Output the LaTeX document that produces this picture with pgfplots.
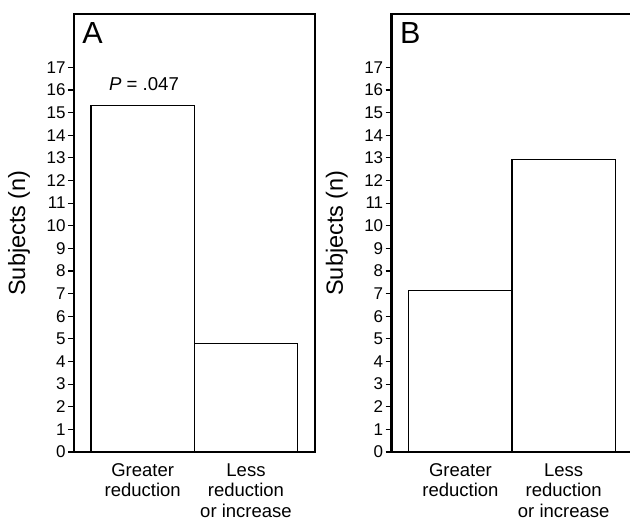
\documentclass[border=0pt]{standalone}
\usepackage{pgfplots}
\pgfplotsset{compat=1.18}
\usepackage{fontspec}
\setmainfont{Liberation Sans}
\begin{document}
\begin{tikzpicture}[x=1pt,y=1pt]
\pgfplotsset{
  panel/.style={
    scale only axis, width=241pt, height=438pt,
    xmin=-0.665, xmax=1.668, ymin=0, ymax=19.36,
    axis line style={line width=2.6pt},
    ytick={0,...,17}, ytick pos=left, tick align=outside,
    major tick length=6pt,
    ytick style={line width=1.2pt, black},
    xtick={0,1},
    xticklabels={Greater\\reduction, Less\\reduction\\or increase},
    xtick style={draw=none},
    xticklabel style={align=center, font=\fontsize{18.5}{20.5}\selectfont, yshift=-2pt},
    yticklabel={\fontsize{17}{19}\selectfont\pgfmathprintnumber{\tick}},
    yticklabel style={xshift=1pt},
    /pgf/number format/assume math mode=true,
    ylabel={Subjects (n)},
    every axis y label/.style={at={(axis description cs:-0.228,0.5)}, rotate=90, anchor=center, font=\fontsize{23.5}{28}\selectfont},
    ybar, bar width=1, bar shift=0pt,
    clip=false,
  },
  bars/.style={draw=black, fill=white, line width=1.2pt},
}
% Panel A
\begin{axis}[panel, at={(74pt,70pt)}, anchor=south west]
\addplot[bars] coordinates {(0,15.3) (1,4.78)};
\node[anchor=base west, font=\fontsize{30.5}{34}\selectfont] at (axis cs:-0.617,18.07) {A};
\node[anchor=base, font=\fontsize{18.6}{22}\selectfont] at (axis cs:0.013,15.98) {\textit{P} = .047};
\end{axis}
% Panel B
\begin{axis}[panel, at={(391.7pt,70pt)}, anchor=south west]
\addplot[bars] coordinates {(0,7.15) (1,12.93)};
\node[anchor=base west, font=\fontsize{30.5}{34}\selectfont] at (axis cs:-0.617,18.07) {B};
\end{axis}
\pgfresetboundingbox
\path[use as bounding box] (0,0) rectangle (630,522);
\end{tikzpicture}
\end{document}
